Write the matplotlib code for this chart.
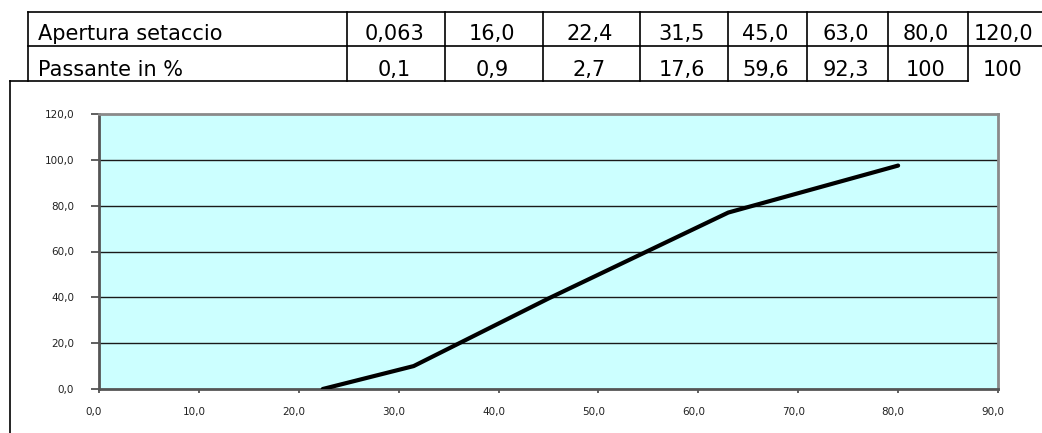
import matplotlib.pyplot as plt
import matplotlib.transforms as mtransforms
from matplotlib.lines import Line2D

# table contents (as printed above the chart)
row_headers = ["Apertura setaccio", "Passante in %"]
sieve_labels = ["0,063", "16,0", "22,4", "31,5", "45,0", "63,0", "80,0", "120,0"]
passing_labels = ["0,1", "0,9", "2,7", "17,6", "59,6", "92,3", "100", "100"]

# curve as drawn in the chart
curve_x = [22.4, 31.5, 45.0, 63.0, 80.0]
curve_y = [0.0, 10.0, 39.5, 77.0, 97.5]

x_ticks = [0, 10, 20, 30, 40, 50, 60, 70, 80, 90]
y_ticks = [0, 20, 40, 60, 80, 100, 120]

W, H = 1042, 433
fig = plt.figure(figsize=(W / 100, H / 100), dpi=100)
fig.patch.set_facecolor("white")


def px(x, y):
    return x / W, 1 - y / H


def hline(x0, x1, y, **kw):
    fig.add_artist(Line2D([x0 / W, x1 / W], [1 - y / H, 1 - y / H], transform=fig.transFigure, **kw))


def vline(x, y0, y1, **kw):
    fig.add_artist(Line2D([x / W, x / W], [1 - y0 / H, 1 - y1 / H], transform=fig.transFigure, **kw))


# --- table ---
col_edges = [28, 347, 445, 543, 640, 728, 807, 888, 968, 1042]
row_edges = [12, 46, 81]
line_kw = dict(color="black", linewidth=1.2)
hline(28, 1042, row_edges[0], **line_kw)
hline(28, 1042, row_edges[1], **line_kw)
for x in col_edges[:-1]:
    vline(x, row_edges[0], row_edges[2], **line_kw)

baselines = [39.5, 76]
for r, (head, vals) in enumerate(zip(row_headers, [sieve_labels, passing_labels])):
    fx, fy = px(col_edges[0] + 10, baselines[r])
    fig.text(fx, fy, head, ha="left", va="baseline", fontsize=15,
             family="DejaVu Sans")
    for i, v in enumerate(vals):
        cx = (col_edges[i + 1] + col_edges[i + 2]) / 2
        fx, fy = px(cx - 2, baselines[r])
        fig.text(fx, fy, v, ha="center", va="baseline", fontsize=15,
                 family="DejaVu Sans")

# chart frame (top edge covers table bottom)
hline(10, 968, 81, color="black", linewidth=1.2)
vline(10, 81, 433, color="black", linewidth=1.2)

# --- chart ---
left, right, top, bottom = 99, 998, 114, 389
ax = fig.add_axes([left / W, 1 - bottom / H, (right - left) / W, (bottom - top) / H])
ax.set_facecolor("#CCFFFF")
ax.plot(curve_x, curve_y, color="black", linewidth=3, solid_capstyle="round", zorder=3)

ax.set_xlim(0, 90)
ax.set_ylim(0, 120)
ax.set_xticks(x_ticks)
ax.set_yticks(y_ticks)
ax.set_xticklabels([f"{v:.1f}".replace(".", ",") for v in x_ticks])
ax.set_yticklabels([f"{v:.1f}".replace(".", ",") for v in y_ticks])
ax.tick_params(axis="x", direction="out", length=3, width=1.2, color="#444444",
               pad=10, labelsize=7.5, labelcolor="#222222")
ax.tick_params(axis="y", direction="out", length=6, width=1.2, color="#444444",
               pad=12, labelsize=7.5, labelcolor="#222222")

# labels sit a little left of their ticks in the original
shift = mtransforms.ScaledTranslation(-5 / 100, 0, fig.dpi_scale_trans)
for lbl in ax.get_xticklabels():
    lbl.set_transform(lbl.get_transform() + shift)

for y in y_ticks[1:-1]:
    ax.axhline(y, color="#1a1a1a", linewidth=1.0, zorder=1)

ax.spines["left"].set_color("#555555")
ax.spines["bottom"].set_color("#555555")
ax.spines["top"].set_color("#8a8a8a")
ax.spines["right"].set_color("#8a8a8a")
for s in ax.spines.values():
    s.set_linewidth(2)

fig.savefig("out.png", dpi=100, facecolor="white")
